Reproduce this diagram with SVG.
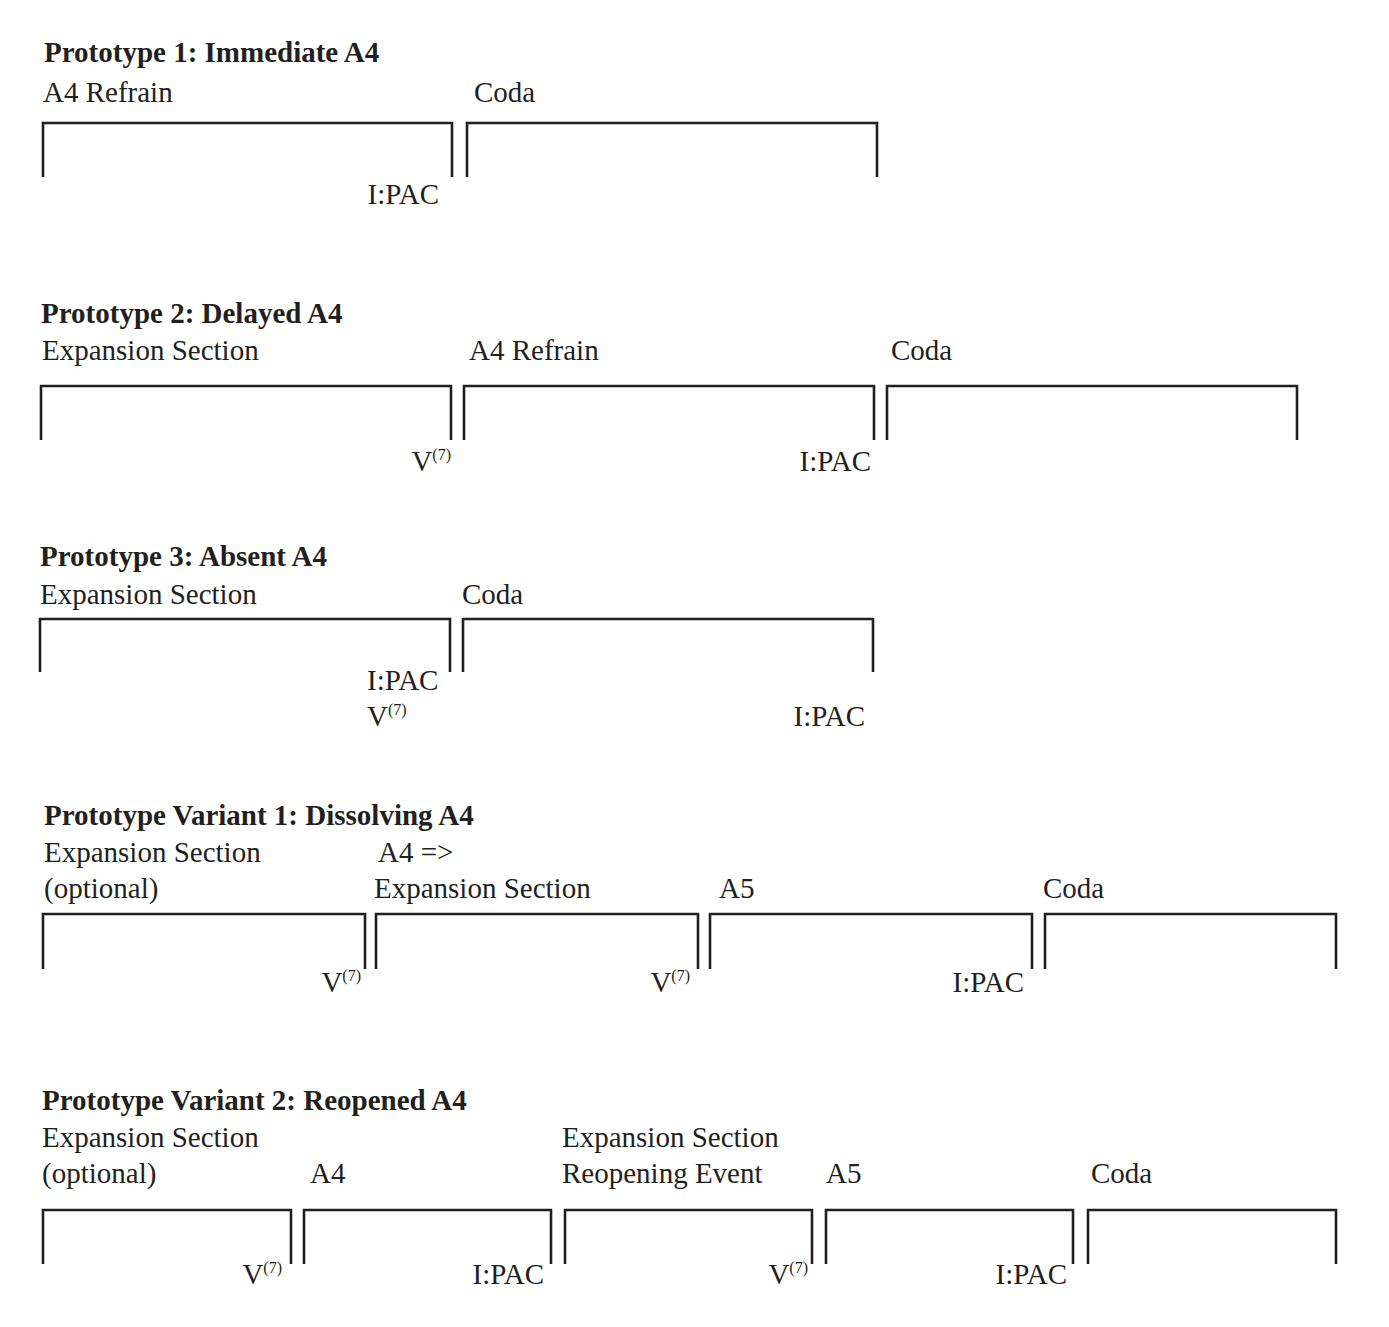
<svg xmlns="http://www.w3.org/2000/svg" width="1389" height="1327" viewBox="0 0 1389 1327">
<style>
text{font-family:"Liberation Serif","Times New Roman",serif;font-size:29px;fill:#231f20}
.t{font-weight:bold}
.e{text-anchor:end}
.sup{font-size:16px}
.b{fill:none;stroke:#231f20;stroke-width:2.6}
</style>
<rect width="1389" height="1327" fill="#fff"/>
<g id="p1">
<text class="t" x="44" y="62">Prototype 1: Immediate A4</text>
<text x="43" y="102">A4 Refrain</text>
<text x="474" y="102">Coda</text>
<text class="e" x="439" y="204">I:PAC</text>
</g>
<g id="p2">
<text class="t" x="41" y="323">Prototype 2: Delayed A4</text>
<text x="42" y="360">Expansion Section</text>
<text x="469" y="360">A4 Refrain</text>
<text x="891" y="360">Coda</text>
<text class="e" x="451" y="471">V<tspan class="sup" dy="-11">(7)</tspan></text>
<text class="e" x="871" y="471">I:PAC</text>
</g>
<g id="p3">
<text class="t" x="40" y="566">Prototype 3: Absent A4</text>
<text x="40" y="604">Expansion Section</text>
<text x="462" y="604">Coda</text>
<text x="367" y="690">I:PAC</text>
<text x="367" y="726">V<tspan class="sup" dy="-11">(7)</tspan></text>
<text class="e" x="865" y="726">I:PAC</text>
</g>
<g id="pv1">
<text class="t" x="44" y="825">Prototype Variant 1: Dissolving A4</text>
<text x="44" y="862">Expansion Section</text>
<text x="44" y="898">(optional)</text>
<text x="378" y="862">A4 =&gt;</text>
<text x="374" y="898">Expansion Section</text>
<text x="719" y="898">A5</text>
<text x="1043" y="898">Coda</text>
<text class="e" x="361" y="992">V<tspan class="sup" dy="-11">(7)</tspan></text>
<text class="e" x="690" y="992">V<tspan class="sup" dy="-11">(7)</tspan></text>
<text class="e" x="1024" y="992">I:PAC</text>
</g>
<g id="pv2">
<text class="t" x="42" y="1110">Prototype Variant 2: Reopened A4</text>
<text x="42" y="1147">Expansion Section</text>
<text x="42" y="1183">(optional)</text>
<text x="310" y="1183">A4</text>
<text x="562" y="1147">Expansion Section</text>
<text x="562" y="1183">Reopening Event</text>
<text x="826" y="1183">A5</text>
<text x="1091" y="1183">Coda</text>
<text class="e" x="282" y="1284">V<tspan class="sup" dy="-11">(7)</tspan></text>
<text class="e" x="544" y="1284">I:PAC</text>
<text class="e" x="808" y="1284">V<tspan class="sup" dy="-11">(7)</tspan></text>
<text class="e" x="1067" y="1284">I:PAC</text>
</g>
<g id="brackets">
<path class="b" d="M43 177V123H452V177M467 177V123H877V177"/>
<path class="b" d="M41 440V386H451V440M464 440V386H874V440M887 440V386H1297V440"/>
<path class="b" d="M40 672V619H450V672M463 672V619H873V672"/>
<path class="b" d="M43 969V914H365V969M376 969V914H698V969M710 969V914H1032V969M1045 969V914H1336V969"/>
<path class="b" d="M43 1264V1210H291V1264M304 1264V1210H551V1264M565 1264V1210H812V1264M826 1264V1210H1073V1264M1088 1264V1210H1336V1264"/>
</g>
</svg>
